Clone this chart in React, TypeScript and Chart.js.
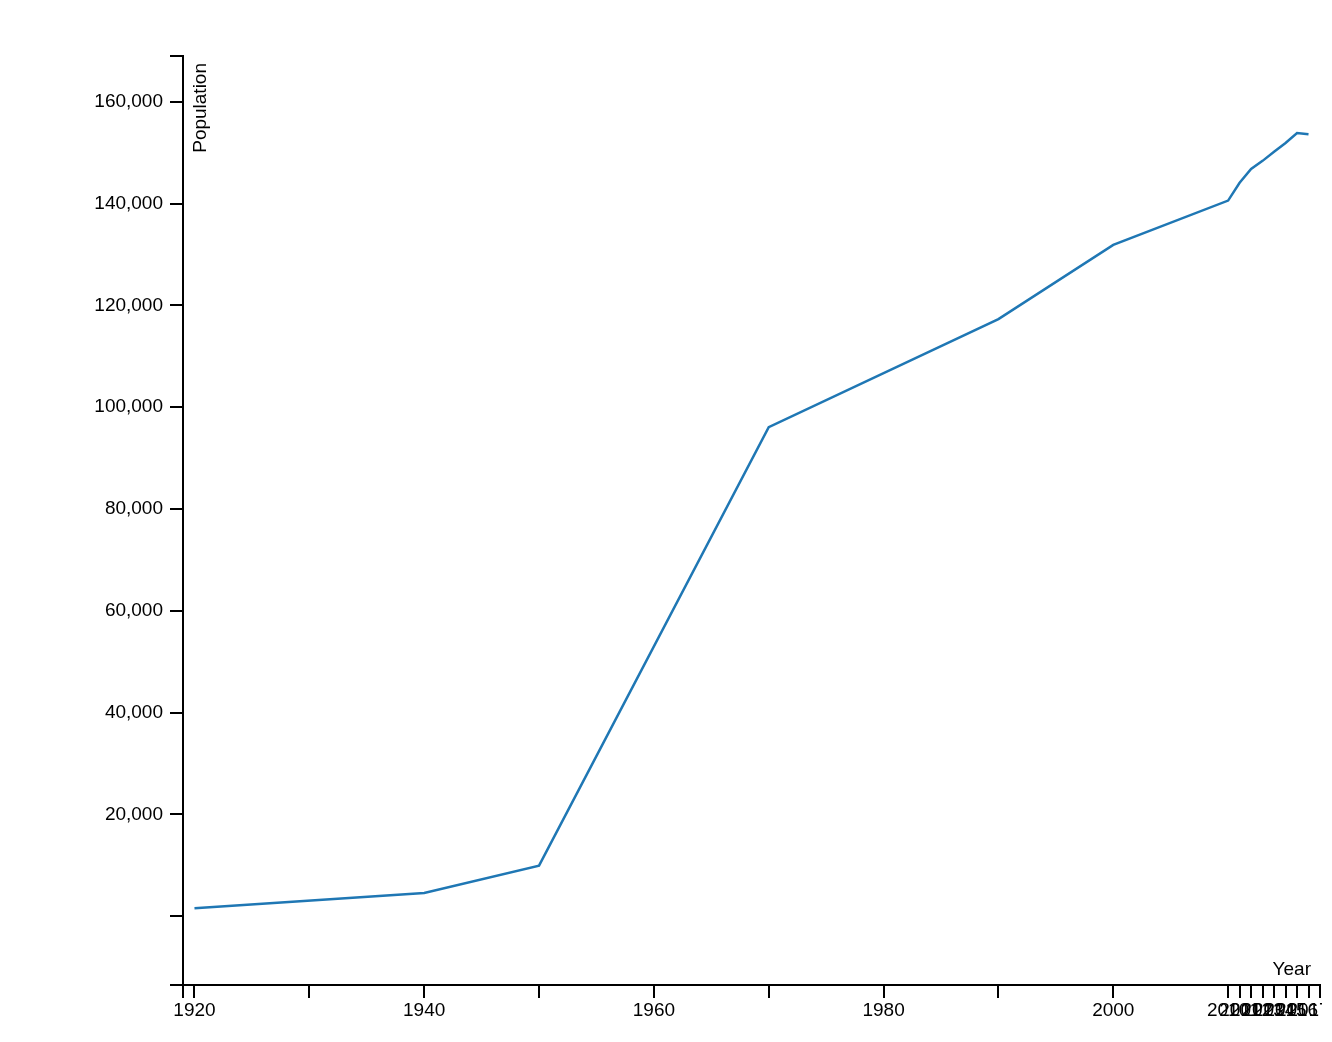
import React, { useEffect, useRef } from "react";
import { Chart, registerables } from "chart.js";

Chart.register(...registerables);

const years = [1920, 1940, 1950, 1970, 1990, 2000, 2010, 2011, 2012, 2013, 2014, 2015, 2016, 2017];
const population = [1600, 4570, 9950, 96100, 117300, 131900, 140600, 144100, 146800, 148400, 150200, 151900, 153850, 153650];

const xMin = 1919;
const xMax = 2018;
const yMin = -13500;
const yMax = 169000;

const xTickValues = [1919, 1920, 1930, 1940, 1950, 1960, 1970, 1980, 1990, 2000, 2010, 2011, 2012, 2013, 2014, 2015, 2016, 2017, 2018];
const xTickLabels = [1920, 1940, 1960, 1980, 2000, 2010, 2011, 2012, 2013, 2014, 2015, 2016, 2017];
const yTickValues = [-13500, 0, 20000, 40000, 60000, 80000, 100000, 120000, 140000, 160000, 169000];
const yTickLabels = [20000, 40000, 60000, 80000, 100000, 120000, 140000, 160000];

const xTitle = "Year";
const yTitle = "Population";

const FONT = "'Liberation Sans', Arial, Helvetica, sans-serif";
const FONT_SIZE = 19;

export default function App() {
  const ref = useRef<HTMLCanvasElement | null>(null);

  useEffect(() => {
    if (!ref.current) return;
    const titlePlugin = {
      id: "axisTitles",
      afterDraw(chart: any) {
        const { ctx, chartArea } = chart;
        ctx.save();
        ctx.fillStyle = "#000";
        ctx.font = `${FONT_SIZE}px ${FONT}`;
        ctx.textAlign = "right";
        ctx.textBaseline = "alphabetic";
        ctx.fillText(xTitle, chartArea.right - 9, chartArea.bottom - 10);
        ctx.translate(chartArea.left + 8, chartArea.top + 7);
        ctx.rotate(-Math.PI / 2);
        ctx.textAlign = "right";
        ctx.textBaseline = "top";
        ctx.fillText(yTitle, 0, 0);
        ctx.restore();
      },
    };

    const chart = new Chart(ref.current, {
      type: "line",
      data: {
        datasets: [
          {
            data: years.map((y, i) => ({ x: y, y: population[i] })),
            borderColor: "#1f77b4",
            borderWidth: 2.5,
            pointRadius: 0,
            tension: 0,
            fill: false,
          },
        ],
      },
      options: {
        animation: false,
        responsive: false,
        maintainAspectRatio: false,
        layout: { padding: { top: 48, right: 2, left: 0, bottom: 0 } },
        plugins: { legend: { display: false }, tooltip: { enabled: false } },
        scales: {
          x: {
            type: "linear",
            min: xMin,
            max: xMax,
            afterBuildTicks: (scale: any) => {
              scale.ticks = xTickValues.map((v) => ({ value: v }));
            },
            afterFit: (scale: any) => {
              scale.height = 49;
              scale.paddingLeft = 0;
              scale.paddingRight = 0;
            },
            grid: { drawOnChartArea: false, drawTicks: true, tickLength: 13, color: "#000", lineWidth: 2 },
            border: { color: "#000", width: 2 },
            ticks: {
              autoSkip: false,
              maxRotation: 0,
              minRotation: 0,
              padding: 1,
              color: "#000",
              font: { family: FONT, size: FONT_SIZE },
              callback: (v: any) => (xTickLabels.includes(Number(v)) ? String(v) : ""),
            },
          },
          y: {
            type: "linear",
            min: yMin,
            max: yMax,
            afterBuildTicks: (scale: any) => {
              scale.ticks = yTickValues.map((v) => ({ value: v }));
            },
            afterFit: (scale: any) => {
              scale.width = 175;
              scale.paddingTop = 0;
              scale.paddingBottom = 0;
            },
            grid: { drawOnChartArea: false, drawTicks: true, tickLength: 13, color: "#000", lineWidth: 2 },
            border: { color: "#000", width: 2 },
            ticks: {
              autoSkip: false,
              padding: 7,
              color: "#000",
              font: { family: FONT, size: FONT_SIZE },
              callback: (v: any) => (yTickLabels.includes(Number(v)) ? Number(v).toLocaleString("en-US") : ""),
            },
          },
        },
      },
      plugins: [titlePlugin],
    });
    return () => chart.destroy();
  }, []);

  return (
    <div style={{ width: 1314, height: 1026 }}>
      <canvas ref={ref} width={1314} height={1026} style={{ display: "block", width: 1314, height: 1026 }} />
    </div>
  );
}
